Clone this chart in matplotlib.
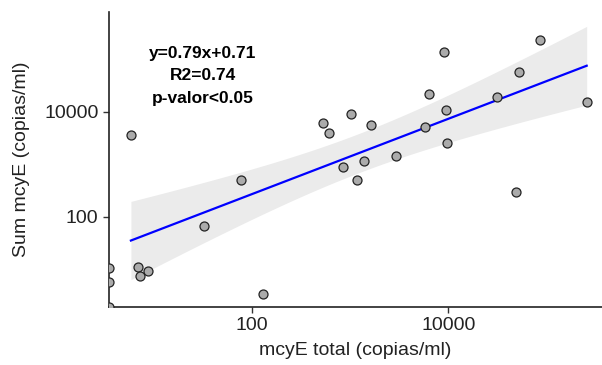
import numpy as np
import matplotlib
matplotlib.use("Agg")
import matplotlib.pyplot as plt
from matplotlib.ticker import FixedLocator, FixedFormatter, NullLocator

# values (copias/ml); 0 means the point sits on the axis edge
mcye_total = [5.9, 77.8, 33, 6.9, 7.3, 8.8, 129, 0, 0, 0,
              535, 607, 1016, 843, 1170, 1637, 1397, 2915, 5835, 6410,
              8980, 9480, 9780, 31500, 52700, 48500, 85700, 256000]
sum_mcye = [3600, 493, 67, 11.2, 7.4, 9.4, 3.4, 10.4, 5.6, 0,
            6010, 3980, 8900, 885, 493, 5580, 1150, 1452, 5040, 21730,
            135000, 10630, 2570, 18800, 57800, 295, 235000, 15500]
eq_text = ["y=0.79x+0.71", "R2=0.74", "p-valor<0.05"]
tick_vals = [100, 10000]
tick_labels = ["100", "10000"]

x = np.array(mcye_total, dtype=float)
y = np.array(sum_mcye, dtype=float)
xmin, xmax = 10**0.548, 10**5.564
ymin, ymax = 10**0.289, 10**5.89

# linear fit in log-log space, only finite values (like geom_smooth)
ok = (x > 0) & (y > 0)
lx, ly = np.log10(x[ok]), np.log10(y[ok])
n = len(lx)
b, a = np.polyfit(lx, ly, 1)
resid = ly - (a + b * lx)
s = np.sqrt(np.sum(resid**2) / (n - 2))
t975 = 2.056  # t quantile, df = 26
gx = np.linspace(lx.min(), lx.max(), 80)
gy = a + b * gx
se = s * np.sqrt(1 / n + (gx - lx.mean())**2 / np.sum((lx - lx.mean())**2))

plt.rcParams['font.family'] = ['Liberation Sans', 'DejaVu Sans']
fig = plt.figure(figsize=(6.02, 3.65), dpi=100)
ax = fig.add_axes([109 / 602, 58.5 / 365, 1 - 109 / 602, 294 / 365])
ax.set_xscale('log')
ax.set_yscale('log')

ax.fill_between(10**gx, 10**(gy - t975 * se), 10**(gy + t975 * se),
                color='#EBEBEB', lw=0, zorder=1)
ax.plot(10**gx, 10**gy, color='#0000FF', lw=1.6, zorder=2)

# points with zero go to the panel edge (clipped there, as in ggplot)
px = np.where(x > 0, x, xmin)
py = np.where(y > 0, y, ymin)
ax.scatter(px, py, s=42, facecolor='#ABABAB', edgecolor='#222222',
           linewidth=0.9, zorder=3)

ax.text(0.19, 0.785, "\n".join(eq_text), transform=ax.transAxes,
        ha='center', va='center', fontsize=12.5, fontweight='bold',
        linespacing=1.62)

ax.set_xlim(xmin, xmax)
ax.set_ylim(ymin, ymax)
for axis in [ax.xaxis, ax.yaxis]:
    axis.set_major_locator(FixedLocator(tick_vals))
    axis.set_major_formatter(FixedFormatter(tick_labels))
    axis.set_minor_locator(NullLocator())
ax.tick_params(labelsize=14, colors='#333333', length=4, width=1, labelcolor='#222222')
for sp in ['top', 'right']:
    ax.spines[sp].set_visible(False)
for sp in ['left', 'bottom']:
    ax.spines[sp].set_linewidth(1.2)
    ax.spines[sp].set_color('#222222')

ax.set_xlabel("mcyE total (copias/ml)", fontsize=14, color='#222222', labelpad=6)
ax.set_ylabel("Sum mcyE (copias/ml)", fontsize=14, color='#222222', labelpad=10)

fig.savefig("out.png", dpi=100)
